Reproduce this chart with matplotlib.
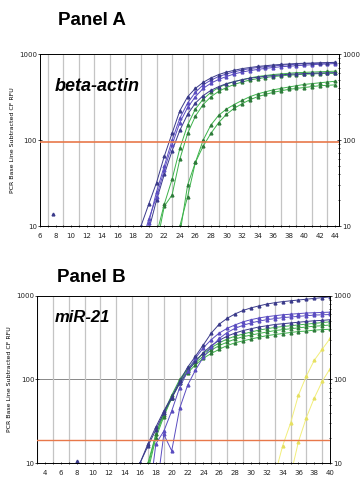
import numpy as np
import matplotlib
matplotlib.use("Agg")
from matplotlib import pyplot
from matplotlib.ticker import FixedLocator, NullFormatter

# ---- Panel A (beta-actin) : cycle -> RFU
a_purple1_x = list(range(18, 45))
a_purple1_y = [5, 10, 18, 32, 65, 120, 220, 320, 400, 470, 530, 580, 620, 650, 680,
               700, 720, 735, 750, 760, 770, 780, 785, 790, 795, 800, 805]
a_purple2_x = list(range(19, 45))
a_purple2_y = [5, 11, 25, 50, 100, 180, 270, 360, 440, 500, 550, 590, 625, 655, 680,
               700, 715, 730, 745, 755, 765, 775, 780, 785, 790, 795]
a_purple3_x = list(range(19, 45))
a_purple3_y = [6, 12, 22, 45, 88, 160, 240, 320, 400, 460, 510, 550, 590, 620, 645,
               665, 685, 700, 715, 725, 735, 745, 755, 765, 770, 780]
a_dark_x = list(range(19, 45))
a_dark_y = [4, 9, 20, 40, 75, 130, 200, 270, 330, 380, 420, 455, 480, 505, 525,
            540, 555, 565, 575, 585, 590, 595, 600, 605, 608, 610]
a_green1_x = list(range(21, 45))
a_green1_y = [8, 18, 35, 80, 150, 230, 300, 360, 410, 450, 480, 505, 530, 550, 565,
              580, 590, 600, 610, 615, 620, 625, 630, 635]
a_green2_x = list(range(21, 45))
a_green2_y = [6, 17, 23, 60, 120, 190, 260, 320, 370, 410, 445, 475, 500, 520, 535,
              550, 560, 570, 578, 585, 590, 595, 598, 600]
a_green3_x = list(range(23, 45))
a_green3_y = [4, 10, 22, 55, 100, 150, 195, 230, 260, 290, 320, 345, 365, 385, 400,
              415, 430, 445, 455, 465, 475, 485]
a_green4_x = list(range(23, 45))
a_green4_y = [3, 8, 30, 55, 85, 120, 160, 200, 235, 265, 295, 320, 340, 360, 375,
              390, 400, 410, 420, 430, 435, 440]
a_stray_x = [7.7]
a_stray_y = [14]

# ---- Panel B (miR-21)
b_purple1_x = list(range(15, 41))
b_purple1_y = [5, 10, 17, 27, 42, 62, 95, 140, 190, 260, 360, 460, 540, 610, 670,
               720, 760, 800, 830, 855, 875, 895, 915, 935, 955, 975]
b_purple2_x = list(range(17, 41))
b_purple2_y = [3, 17, 24, 42, 80, 125, 180, 240, 300, 360, 410, 450, 490, 520, 545,
               565, 580, 595, 605, 615, 625, 630, 635, 640]
b_purple3_x = list(range(18, 41))
b_purple3_y = [4, 22, 14, 45, 85, 130, 185, 245, 310, 365, 410, 445, 475, 500, 520,
               535, 550, 560, 570, 580, 590, 595, 600]
b_dark_x = list(range(15, 41))
b_dark_y = [6, 10, 16, 25, 40, 60, 90, 125, 165, 210, 255, 295, 330, 360, 385,
            405, 425, 440, 455, 465, 475, 485, 495, 505, 510, 520]
b_green1_x = list(range(16, 41))
b_green1_y = [5, 9, 22, 40, 65, 100, 135, 170, 205, 240, 275, 305, 330, 350, 370,
              390, 405, 420, 430, 440, 450, 460, 470, 480, 490]
b_green2_x = list(range(16, 41))
b_green2_y = [4, 8, 20, 36, 60, 95, 130, 160, 190, 225, 255, 280, 305, 325, 340,
              355, 370, 385, 395, 405, 415, 425, 435, 440, 450]
b_green3_x = list(range(16, 41))
b_green3_y = [6, 10, 22, 38, 60, 90, 120, 150, 180, 205, 230, 255, 275, 290, 305,
              320, 335, 345, 355, 365, 375, 380, 390, 395, 400]
b_yellow1_x = list(range(33, 41))
b_yellow1_y = [7, 16, 30, 65, 110, 170, 230, 310]
b_yellow2_x = list(range(35, 41))
b_yellow2_y = [7, 18, 35, 60, 95, 135]
b_stray_x = [8]
b_stray_y = [10.5]

PURPLE = '#5a4cc0'
DARK = '#3a3a8a'
GREEN = '#3cb24a'
YELLOW = '#f2ee7a'
ORANGE = '#e8784a'
GRID = '#c4c4c4'


def curve(ax, x, y, color, mcolor=None):
    ax.plot(x, y, color=color, lw=0.7, marker='^', ms=2.0,
            mfc=mcolor or color, mec=mcolor or color, clip_on=True)


def style_axes(ax, xmin, xmax, xlabels):
    ax.set_yscale('log')
    ax.set_xlim(xmin, xmax)
    ax.set_ylim(10, 1000)
    ax.xaxis.set_major_locator(FixedLocator(xlabels))
    ax.xaxis.set_minor_locator(FixedLocator(np.arange(np.ceil(xmin), xmax + 0.01, 1)))
    ax.tick_params(axis='x', which='both', direction='inout', length=2, width=0.6,
                   labelsize=5, pad=4, colors='#222222')
    ax.tick_params(axis='y', which='major', direction='inout', length=3, width=0.6,
                   labelsize=5, right=True, labelright=True, pad=0.5, colors='#222222')
    ax.tick_params(axis='y', which='minor', left=False, right=True,
                   direction='inout', length=2, width=0.5)
    ax.yaxis.set_minor_formatter(NullFormatter())
    ax.set_yticks([10, 100, 1000])
    ax.set_yticklabels(['10', '100', '1000'])
    ax.grid(True, axis='x', which='minor', color=GRID, lw=0.9)
    for s in ax.spines.values():
        s.set_linewidth(0.7)
    ax.set_ylabel('PCR Base Line Subtracted CF RFU', fontsize=4.5, labelpad=3)


fig = pyplot.figure(figsize=(3.6, 4.8), dpi=100)

# Panel A
ax1 = fig.add_axes([0.111, 0.529, 0.831, 0.358])
style_axes(ax1, 6, 44.5, list(range(6, 45, 2)))
ax1.axhline(95, color=ORANGE, lw=1.2, zorder=3)
curve(ax1, a_green4_x, a_green4_y, GREEN, '#2e7a3a')
curve(ax1, a_green3_x, a_green3_y, GREEN, '#2e7a3a')
curve(ax1, a_green2_x, a_green2_y, GREEN, '#2e7a3a')
curve(ax1, a_green1_x, a_green1_y, GREEN, '#2e7a3a')
curve(ax1, a_dark_x, a_dark_y, DARK)
curve(ax1, a_purple3_x, a_purple3_y, PURPLE)
curve(ax1, a_purple2_x, a_purple2_y, PURPLE)
curve(ax1, a_purple1_x, a_purple1_y, DARK)
ax1.plot(a_stray_x, a_stray_y, '^', ms=2.0, color=DARK)
ax1.text(0.05, 0.785, 'beta-actin', transform=ax1.transAxes, fontsize=13,
         fontweight='bold', style='italic', family='Liberation Sans')
fig.text(0.255, 0.958, 'Panel A', fontsize=13.5, fontweight='bold',
         family='Liberation Sans', ha='center', va='center')

# Panel B
ax2 = fig.add_axes([0.103, 0.0354, 0.814, 0.348])
style_axes(ax2, 3, 40, list(range(4, 41, 2)))
ax2.axhline(100, color='#888888', lw=0.7, zorder=1)
ax2.axhline(19, color=ORANGE, lw=1.0, zorder=3)
curve(ax2, b_yellow1_x, b_yellow1_y, YELLOW, '#e6e060')
curve(ax2, b_yellow2_x, b_yellow2_y, YELLOW, '#e6e060')
curve(ax2, b_green3_x, b_green3_y, GREEN, '#2e7a3a')
curve(ax2, b_green2_x, b_green2_y, GREEN, '#2e7a3a')
curve(ax2, b_green1_x, b_green1_y, GREEN, '#2e7a3a')
curve(ax2, b_dark_x, b_dark_y, DARK)
curve(ax2, b_purple3_x, b_purple3_y, PURPLE)
curve(ax2, b_purple2_x, b_purple2_y, PURPLE)
curve(ax2, b_purple1_x, b_purple1_y, DARK)
ax2.plot(b_stray_x, b_stray_y, '^', ms=2.0, color=DARK)
ax2.text(0.061, 0.844, 'miR-21', transform=ax2.transAxes, fontsize=12,
         fontweight='bold', style='italic', family='Liberation Sans')
fig.text(0.255, 0.421, 'Panel B', fontsize=13.5, fontweight='bold',
         family='Liberation Sans', ha='center', va='center')

pyplot.savefig('out.png', dpi=100)
